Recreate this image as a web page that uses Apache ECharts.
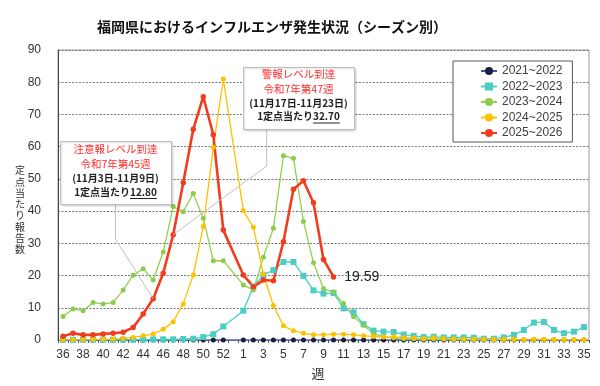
<!DOCTYPE html>
<html><head><meta charset="utf-8">
<script src="https://cdn.jsdelivr.net/npm/echarts@6/dist/echarts.min.js"></script>
<style>html,body{margin:0;padding:0;background:#fff}#c{width:600px;height:386px}</style>
</head><body><div id="c"></div>
<script>
const weeks = ['36','37','38','39','40','41','42','43','44','45','46','47','48','49','50','51','52','53',
  '1','2','3','4','5','6','7','8','9','10','11','12','13','14','15','16','17','18','19','20',
  '21','22','23','24','25','26','27','28','29','30','31','32','33','34','35'];
const yTicks = [0,10,20,30,40,50,60,70,80,90];
const seriesNames = ['2021~2022','2022~2023','2023~2024','2024~2025','2025~2026'];
const s2021 = [0,0,0,0,0,0,0,0,0,0,0,0,0,0,0,0,0,null,
  0,0,0,0,0,0,0,0,0,0,0,0,0,0,0,0,0,0,0,0,0,0,0,0,0,0,0,0,0,0,0,0,0,0,0];
const s2022 = [0.1,0.1,0.1,0.1,0.1,0.1,0.1,0.1,0.1,0.2,0.2,0.2,0.3,0.4,0.9,1.8,4.2,null,
  9.1,16.6,20.2,21.7,24.2,24.2,19.9,15.4,14.4,14.6,9.8,8.6,4.9,2.9,2.6,2.5,1.7,1.3,0.9,1.0,
  0.8,0.8,0.8,0.7,0.4,0.4,0.8,1.6,3.1,5.4,5.6,3.1,2.1,2.6,4.0];
const s2023 = [7.3,9.6,9.1,11.6,11.2,11.6,15.5,20.1,22.1,18.6,27.3,41.4,39.8,45.5,37.8,24.6,24.6,null,
  17.1,15.5,25.7,34.7,57.2,56.4,36.8,24.0,15.9,14.9,11.3,7.2,4.6,1.9,1.0,0.6,0.4,0.3,0.2,0.2,
  0.2,0.1,0.1,0.1,0.1,0.1,0.1,0.1,0.1,0.1,0.1,0.1,0.1,0.1,0.1];
const s2024 = [0.1,0.1,0.1,0.2,0.2,0.3,0.5,0.8,1.3,1.9,3.3,5.7,11.2,20.2,35.2,59.8,81.0,null,
  40.1,35.0,20.5,10.7,4.4,2.9,2.1,1.6,1.6,1.8,1.8,1.6,1.3,1.1,0.9,1.0,0.8,0.6,0.5,0.7,
  0.5,0.4,0.3,0.3,0.2,0.2,0.2,0.2,0.1,0.2,0.2,0.1,0.1,0.1,0.1];
const s2025 = [1.2,2.1,1.6,1.6,1.9,2.1,2.4,3.9,8.1,12.8,20.7,32.7,48.8,65.4,75.5,63.7,34.1,null,
  20.2,16.5,18.6,18.4,30.5,46.8,49.4,42.6,25.0,19.59];
const callouts = [
  {title:'注意報レベル到達', week:'令和7年第45週', range:'(11月3日-11月9日)', pre:'1定点当たり', val:'12.80', idx:9},
  {title:'警報レベル到達', week:'令和7年第47週', range:'(11月17日-11月23日)', pre:'1定点当たり', val:'32.70', idx:11}
];

const chart = echarts.init(document.getElementById('c'));
const FF = '"Liberation Sans","Noto Sans CJK JP",sans-serif';
const JF = '"Noto Sans CJK JP",sans-serif';
function mk(name, data, line, mark, symbol, size, width) {
  return {name, type:'line', data, connectNulls:true, symbol, symbolSize:size,
    lineStyle:{color:line, width}, itemStyle:{color:mark}, emphasis:{disabled:true}, animation:false};
}
const lastIdx = s2025.length - 1;
const redData = s2025.map((v,i)=> i===lastIdx ? {value:v, label:{show:true, formatter:()=>v.toFixed(2), position:'right', distance:8, fontSize:14, color:'#222', fontFamily:FF}} : v);
chart.setOption({
  animation:false,
  grid:{left:58, right:11, top:50, bottom:46, show:true, borderColor:'#999', borderWidth:1},
  legend:{orient:'vertical', left:453, top:61, padding:[4,10,3,27], itemGap:3.5, itemWidth:16, itemHeight:10,
    borderColor:'#595959', borderWidth:1, backgroundColor:'#fff',
    textStyle:{fontSize:12, color:'#404040', fontFamily:FF, lineHeight:12}, data:seriesNames},
  xAxis:{type:'category', data:weeks, boundaryGap:true,
    axisLine:{lineStyle:{color:'#777'}},
    axisTick:{show:true, interval:0, length:3, lineStyle:{color:'#555'}},
    axisLabel:{interval:1, fontSize:12, color:'#333', fontFamily:FF, margin:9},
    splitLine:{show:false}},
  yAxis:{type:'value', min:0, max:90, interval:10,
    axisLine:{show:true, lineStyle:{color:'#444'}}, axisTick:{show:false},
    axisLabel:{fontSize:12, color:'#333', fontFamily:FF, margin:17},
    splitLine:{lineStyle:{color:'#777', type:[2,1.5], width:1}}},
  series:[
    mk(seriesNames[0], s2021, '#3f51b5', '#1a1f3d', 'circle', 5, 1.2),
    mk(seriesNames[1], s2022, '#48d1c0', '#4ccdc4', 'rect', 6, 1.3),
    mk(seriesNames[2], s2023, '#92d050', '#8ccc4c', 'circle', 5, 1.3),
    mk(seriesNames[3], s2024, '#ffc000', '#ffc000', 'circle', 5, 1.3),
    mk(seriesNames[4], redData, '#f23c1e', '#f23c1e', 'circle', 5.5, 2.6)
  ]
});

const ctx = document.createElement('canvas').getContext('2d');
function tw(text, size, weight){ ctx.font = weight+' '+size+'px "Noto Sans CJK JP"'; return ctx.measureText(text).width; }
const boxes = [{x:60,y:141,w:111,h:63},{x:243,y:67,w:111,h:62}];
const g = [];
g.push({type:'text', x:272, y:27, style:{text:'福岡県におけるインフルエンザ発生状況（シーズン別）', fontSize:14, fontWeight:'bold', fontFamily:JF, fill:'#111', align:'center', verticalAlign:'middle'}});
g.push({type:'text', x:20, y:210, style:{text:'定\n点\n当\nた\nり\n報\n告\n数', fontSize:10, lineHeight:11.3, fontFamily:JF, fill:'#333', align:'center', verticalAlign:'middle'}});
g.push({type:'text', x:318, y:373, style:{text:'週', fontSize:13, fontFamily:JF, fill:'#333', align:'center', verticalAlign:'middle'}});
callouts.forEach((c,k)=>{
  const b = boxes[k];
  const cx = b.x + b.w/2;
  const p = chart.convertToPixel({gridIndex:0}, [c.idx, s2025[c.idx]]);
  const midY = b.y + b.h + (k===0 ? 35 : 37);
  const lx = k===0 ? cx : 266.7;
  g.push({type:'polyline', z:5, shape:{points:[[lx,b.y+b.h],[lx,midY],[p[0],p[1]]]}, style:{stroke:'#c0c0c0', lineWidth:1, fill:null}});
  g.push({type:'rect', z:6, shape:{x:b.x+0.5, y:b.y+0.5, width:b.w, height:b.h}, style:{fill:'#fff', stroke:'#bdbdbd', lineWidth:1, shadowBlur:2, shadowColor:'rgba(0,0,0,0.15)', shadowOffsetX:1, shadowOffsetY:1}});
  const ys = k===0 ? [149,164,178,192] : [74.5,89.5,103,116.5];
  g.push({type:'text', z:7, x:cx, y:ys[0], style:{text:c.title, fontSize:10.5, fontFamily:JF, fill:'#ff2a2a', align:'center', verticalAlign:'middle'}});
  g.push({type:'text', z:7, x:cx, y:ys[1], style:{text:c.week, fontSize:10.5, fontFamily:JF, fill:'#ff2a2a', align:'center', verticalAlign:'middle'}});
  g.push({type:'text', z:7, x:cx, y:ys[2], style:{text:c.range, fontSize:10, fontWeight:'bold', fontFamily:JF, fill:'#222', align:'center', verticalAlign:'middle'}});
  const full = c.pre + c.val;
  const W = tw(full, 10, 'bold'), P = tw(c.pre, 10, 'bold');
  const sx = cx - W/2;
  g.push({type:'text', z:7, x:cx, y:ys[3], style:{text:full, fontSize:10, fontWeight:'bold', fontFamily:JF, fill:'#222', align:'center', verticalAlign:'middle'}});
  g.push({type:'line', z:7, shape:{x1:sx+P, y1:ys[3]+6.5, x2:sx+W, y2:ys[3]+6.5}, style:{stroke:'#222', lineWidth:1}});
});
chart.setOption({graphic:g});
</script></body></html>
